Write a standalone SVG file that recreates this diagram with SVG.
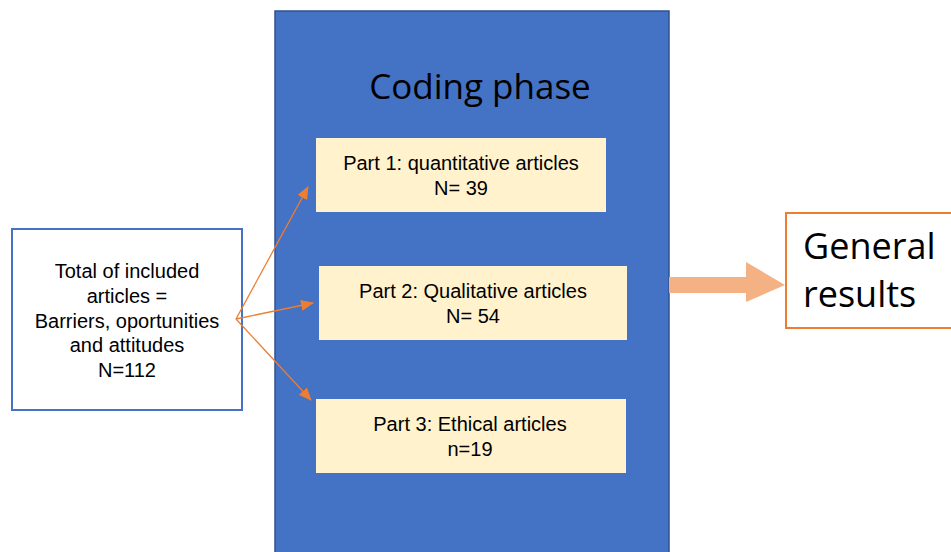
<svg xmlns="http://www.w3.org/2000/svg" width="951" height="552" viewBox="0 0 951 552">
<style>
.t{font-family:"Liberation Sans",Arial,sans-serif;font-size:20px;fill:#000;text-anchor:middle}
.c{font-family:"Open Sans","Noto Sans",sans-serif;fill:#000}
.part{fill:#fff2cc}
.conn{stroke:#ed7d31;stroke-width:1.3;fill:none;marker-end:url(#ah)}
</style>
<defs>
<marker id="ah" markerWidth="13" markerHeight="11" refX="12" refY="5.5" orient="auto" markerUnits="userSpaceOnUse" viewBox="0 0 13 11">
<path d="M0,0 L13,5.5 L0,11 Z" fill="#ed7d31"/>
</marker>
</defs>
<rect width="951" height="552" fill="#fff"/>
<g id="coding-phase">
<rect x="275" y="11" width="394" height="545" fill="#4472c4" stroke="#2f528f" stroke-width="1.5"/>
<text class="c" x="480" y="99" font-size="35" text-anchor="middle">Coding phase</text>
</g>
<g id="part1">
<rect class="part" x="316" y="138" width="290" height="74"/>
<text class="t" x="461" y="170">Part 1: quantitative articles</text>
<text class="t" x="461" y="195">N= 39</text>
</g>
<g id="part2">
<rect class="part" x="319" y="266" width="308" height="74"/>
<text class="t" x="473" y="298">Part 2: Qualitative articles</text>
<text class="t" x="473" y="323">N= 54</text>
</g>
<g id="part3">
<rect class="part" x="316" y="399" width="310" height="74"/>
<text class="t" x="470" y="431">Part 3: Ethical articles</text>
<text class="t" x="470" y="456">n=19</text>
</g>
<g id="total">
<rect x="12" y="229" width="230" height="181" fill="#fff" stroke="#4472c4" stroke-width="2"/>
<text class="t" x="127" y="278">Total of included</text>
<text class="t" x="127" y="303">articles =</text>
<text class="t" x="127" y="328">Barriers, oportunities</text>
<text class="t" x="127" y="352">and attitudes</text>
<text class="t" x="127" y="377">N=112</text>
</g>
<g id="general">
<rect x="786" y="213" width="170" height="115" fill="#fff" stroke="#ed7d31" stroke-width="2"/>
<text class="c" x="803" y="259" font-size="36">General</text>
<text class="c" x="803" y="307" font-size="36">results</text>
</g>
<g id="connectors">
<line class="conn" x1="236" y1="319" x2="308" y2="187"/>
<line class="conn" x1="236" y1="319" x2="313" y2="303"/>
<line class="conn" x1="236" y1="319" x2="311" y2="400"/>
<path d="M669,277 L746,277 L746,262 L785,285 L746,302 L746,293 L669,293 Z" fill="#f4b183"/>
</g>
</svg>
